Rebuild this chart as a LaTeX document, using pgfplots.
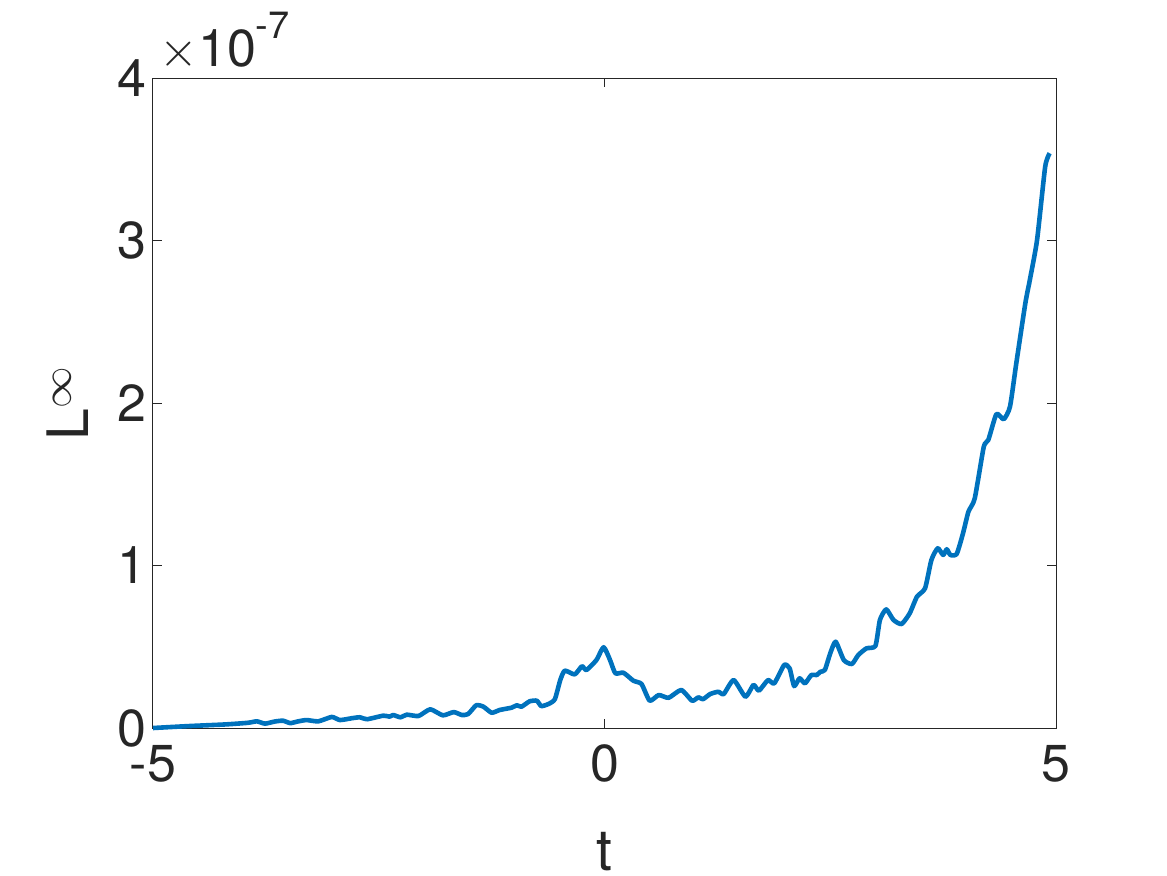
\documentclass[border=0pt]{standalone}
\usepackage{pgfplots}
\pgfplotsset{compat=1.18}
\usepackage{fontspec}
\setmainfont{TeX Gyre Heros}
\definecolor{mblue}{rgb}{0,0.447,0.741}
\definecolor{axgray}{rgb}{0.15,0.15,0.15}

\begin{document}
\begin{tikzpicture}
\begin{axis}[
    scale only axis,
    width=451.5pt, height=325pt,
    xmin=-5, xmax=5, ymin=0, ymax=4,
    xtick={-5,0,5}, xticklabels={-5,0,5},
    ytick={0,1,2,3,4}, yticklabels={0,1,2,3,4},
    axis line style={axgray, line width=0.5pt},
    every tick/.style={axgray, line width=0.5pt},
    major tick length=4.5pt,
    tick align=inside,
    ticklabel style={font=\fontsize{26}{30}\selectfont, text=axgray},
    xticklabel style={yshift=-5pt},
    xlabel={t},
    ylabel={L$^{\infty}$},
    xlabel style={at={(rel axis cs:0.5,0)}, anchor=north, yshift=-52pt,
                  inner sep=0pt, font=\fontsize{28.6}{32}\selectfont, text=axgray},
    % rotated label: yshift points to the left here
    ylabel style={at={(rel axis cs:0,0.5)}, anchor=base, yshift=32pt,
                  inner sep=0pt, font=\fontsize{28.6}{32}\selectfont, text=axgray},
    clip=false,
]
\addplot[mblue, line width=2.3pt, line join=round, smooth, tension=0.35] table {
x y
-5.00 0.000
-4.60 0.012
-4.20 0.022
-3.95 0.032
-3.85 0.041
-3.76 0.027
-3.65 0.040
-3.56 0.045
-3.48 0.030
-3.40 0.040
-3.30 0.049
-3.17 0.041
-3.02 0.068
-2.93 0.049
-2.80 0.060
-2.71 0.066
-2.63 0.054
-2.45 0.076
-2.38 0.070
-2.34 0.080
-2.26 0.066
-2.19 0.082
-2.06 0.074
-1.93 0.115
-1.79 0.078
-1.67 0.098
-1.58 0.080
-1.51 0.086
-1.42 0.140
-1.34 0.131
-1.25 0.094
-1.16 0.111
-1.03 0.125
-0.97 0.140
-0.92 0.131
-0.83 0.164
-0.75 0.168
-0.70 0.135
-0.62 0.148
-0.55 0.177
-0.49 0.295
-0.44 0.353
-0.33 0.330
-0.25 0.380
-0.20 0.357
-0.09 0.418
-0.01 0.497
0.06 0.420
0.12 0.337
0.21 0.340
0.32 0.291
0.41 0.271
0.50 0.168
0.60 0.203
0.71 0.186
0.85 0.234
0.97 0.168
1.04 0.189
1.09 0.177
1.17 0.209
1.26 0.223
1.32 0.209
1.43 0.295
1.56 0.193
1.65 0.265
1.71 0.230
1.81 0.295
1.88 0.275
1.99 0.388
2.05 0.367
2.10 0.258
2.16 0.306
2.22 0.275
2.29 0.326
2.35 0.326
2.39 0.346
2.44 0.357
2.50 0.460
2.56 0.531
2.65 0.418
2.74 0.394
2.81 0.449
2.90 0.490
3.00 0.505
3.05 0.665
3.12 0.730
3.20 0.665
3.29 0.640
3.38 0.706
3.46 0.808
3.55 0.860
3.62 1.034
3.69 1.106
3.75 1.065
3.79 1.100
3.83 1.065
3.90 1.071
3.97 1.198
4.03 1.331
4.10 1.413
4.20 1.731
4.25 1.772
4.34 1.932
4.42 1.900
4.49 1.977
4.56 2.244
4.66 2.613
4.71 2.757
4.79 3.003
4.88 3.454
4.93 3.537
};
% scale factor label, as MATLAB puts it above the y axis
\node[anchor=base west, inner sep=0pt, xshift=3pt, yshift=6pt, text=axgray,
      font=\fontsize{26}{30}\selectfont] at (rel axis cs:0,1)
    {$\times$10\raisebox{0.52em}{\fontsize{19}{20}\selectfont -7}};
\end{axis}
\path[use as bounding box] (-76.5pt,-73.5pt) rectangle (507pt,364pt);
\end{tikzpicture}
\end{document}
